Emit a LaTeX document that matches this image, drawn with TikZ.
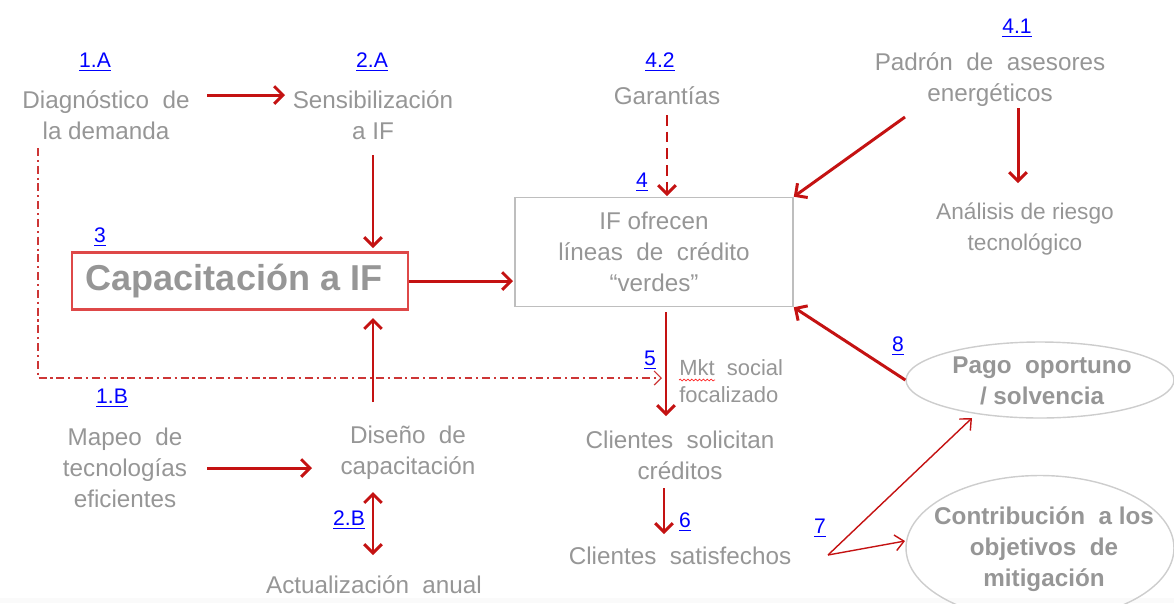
\documentclass[tikz,border=0pt]{standalone}
\usepackage{fontspec}
\setmainfont{Liberation Sans}
\usetikzlibrary{arrows.meta,calc,decorations.pathmorphing,shapes.geometric}
\definecolor{txtgray}{RGB}{150,150,150}
\definecolor{arrred}{RGB}{196,18,18}
\definecolor{boxred}{RGB}{222,72,72}
\definecolor{boxgray}{RGB}{190,190,190}
\definecolor{ellgray}{RGB}{205,205,205}
\definecolor{lblue}{RGB}{0,0,255}
\tikzset{
  txt/.style={text=txtgray, align=center, inner sep=0pt, font=\fontsize{13.8}{17.6}\selectfont},
  btxt/.style={text=txtgray, align=center, inner sep=0pt, font=\bfseries\fontsize{13.8}{17.6}\selectfont},
  num/.style={text=lblue, inner sep=0pt, font=\fontsize{12}{14}\selectfont},
  arr/.style={draw=arrred, line width=1.7pt, -{Straight Barb[length=5pt,width=10pt]}},
  darr/.style={arr, {Straight Barb[length=5pt,width=10pt]}-{Straight Barb[length=5pt,width=10pt]}},
  dasharr/.style={arr, dash pattern=on 6pt off 3.5pt},
  thinarr/.style={draw=arrred, line width=0.8pt, -{Straight Barb[length=5pt,width=9pt]}},
  ddarr/.style={draw=arrred!85, line width=0.7pt, dash pattern=on 4.5pt off 2.2pt on 1.2pt off 2.2pt, -{Straight Barb[length=4pt,width=8pt]}},
}
\begin{document}
\begin{tikzpicture}[x=0.02cm,y=-0.02cm]
\useasboundingbox (0,0) rectangle (1174,603);
\fill[gray!4] (0,598) rectangle (1174,603);
\clip (0,0) rectangle (1174,603);
% labels
\node[num] (l1a) at (95,62) {\underline{1.A}};
\node[num] (l2a) at (372,62) {\underline{2.A}};
\node[num] (l42) at (660,62) {\underline{4.2}};
\node[num] (l41) at (1017,28) {\underline{4.1}};
\node[num] (l3) at (100,237) {\underline{3}};
\node[num] (l4) at (642,182) {\underline{4}};
\node[num] (l5) at (650,360) {\underline{5}};
\node[num] (l8) at (898,346) {\underline{8}};
\node[num] (l1b) at (112,398) {\underline{1.B}};
\node[num] (l2b) at (349,520) {\underline{2.B}};
\node[num] (l6) at (685,522) {\underline{6}};
\node[num] (l7) at (820,528) {\underline{7}};
% texts
\node[txt] (diag) at (106,115) {Diagnóstico~~de\\la demanda};
\node[txt] (sens) at (373,115) {Sensibilización\\a IF};
\node[txt] (gar) at (667,96) {Garantías};
\node[txt] (padron) at (990,80) {Padrón~~de~~asesores\\energéticos};
\node[txt, font=\fontsize{12.9}{17.6}\selectfont] (anal) at (1025,229) {Análisis de riesgo\\tecnológico};
\node[draw=boxred, line width=1.2pt, minimum width=6.72cm, minimum height=1.14cm, inner sep=0pt] (cap) at (240,281) {};
\node[text=txtgray, inner sep=0pt, font=\bfseries\fontsize{20.5}{24}\selectfont] (capt) at (234,281) {Capacitación a IF};
\node[draw=boxgray, line width=0.9pt, minimum width=5.56cm, minimum height=2.18cm, txt] (ifbox) at (654,252)
  {IF ofrecen\\líneas~~de~~crédito\\“verdes”};
\node[txt, anchor=west, align=left, font=\fontsize{12.5}{15.4}\selectfont] (mkt) at (679,381) {Mkt~~social\\focalizado};
\node[txt] (mapeo) at (125,468) {Mapeo~~de\\tecnologías\\eficientes};
\node[txt] (diseno) at (408,453) {Diseño~~de\\capacitación};
\node[txt] (actual) at (374,585) {Actualización~~anual};
\node[txt] (clisol) at (680,455) {Clientes~~solicitan\\créditos};
\node[txt] (clisat) at (680,556) {Clientes~~satisfechos};
\node[draw=ellgray, line width=0.8pt, shape=ellipse, minimum width=5.36cm, minimum height=1.52cm] (pago) at (1040,380) {};
\node[btxt] (pagot) at (1042,381) {Pago~~oportuno\\/ solvencia};
\node[draw=ellgray, line width=0.8pt, shape=ellipse, minimum width=5.36cm, minimum height=2.9cm] (contrib) at (1040,548) {};
\node[btxt] (contribt) at (1044,549) {Contribución~~a los\\objetivos~~de\\mitigación};
% squiggle under Mkt
\draw[red!85, line width=0.4pt, decorate, decoration={snake, amplitude=0.5pt, segment length=2.2pt}]
  ($(mkt.west)+(0,-1)$) -- ($(mkt.west)+(36,-1)$);
% connectors
\draw[arr] ($(diag.center)+(101,-20)$) -- ($(sens.center)+(-88,-20)$);
\draw[arr] ($(sens.center)+(0,40)$) -- ($(cap.center)+(133,-33)$);
\draw[arr] (cap.east) -- ($(ifbox.center)+(-141,29)$);
\draw[dasharr] ($(gar.center)+(0,19)$) -- ($(ifbox.center)+(13,-56)$);
\draw[arr] ($(padron.center)+(-85,37)$) -- (ifbox.north east);
\draw[arr] ($(padron.center)+(28,28)$) -- ($(anal.center)+(-7,-46)$);
\draw[arr] ($(ifbox.center)+(12,60)$) -- ($(clisol.center)+(-14,-39)$);
\draw[arr] (pago.west) -- (ifbox.south east);
\draw[ddarr] ($(diag.center)+(-68,33)$) |- ($(clisol.center)+(-18,-77)$);
\draw[arr] ($(mapeo.center)+(82,0)$) -- ($(diseno.center)+(-96,15)$);
\draw[arr] ($(diseno.center)+(-35,-51)$) -- ($(cap.center)+(133,37)$);
\draw[darr] ($(diseno.center)+(-35,39)$) -- ($(actual.center)+(-1,-30)$);
\draw[arr] ($(clisol.center)+(-16,33)$) -- ($(clisat.center)+(-16,-22)$);
\draw[thinarr] ($(clisat.center)+(148,-1)$) -- ($(pago.center)+(-68,38)$);
\draw[thinarr] ($(clisat.center)+(148,-1)$) -- ($(contrib.center)+(-135,-7)$);
\end{tikzpicture}
\end{document}
